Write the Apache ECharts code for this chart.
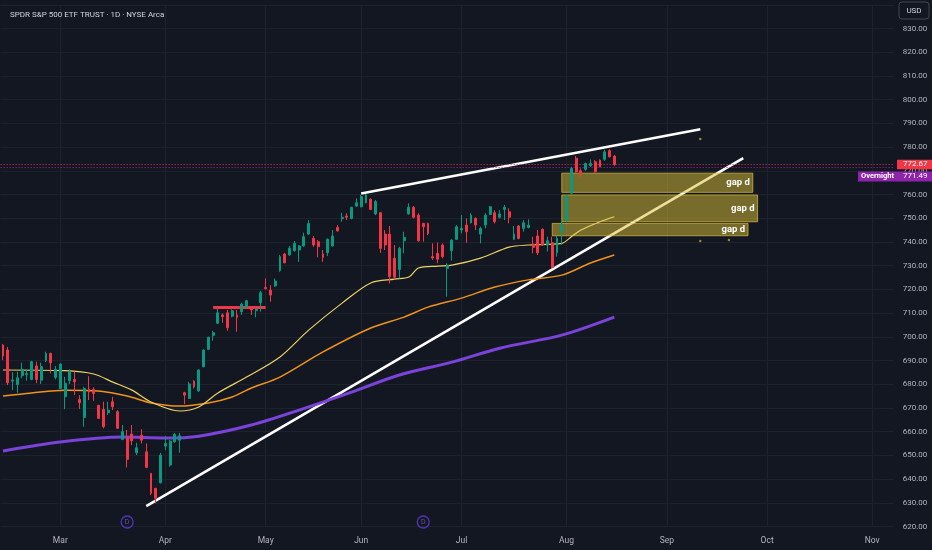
<!DOCTYPE html>
<html><head><meta charset="utf-8">
<script src="https://cdn.jsdelivr.net/npm/echarts@6/dist/echarts.min.js"></script>
<style>html,body{margin:0;padding:0;background:#131722}#c{width:932px;height:550px}</style>
</head><body><div id="c"></div>
<script>
const FONT = 'Roboto, "Noto Sans", sans-serif';
const titleText = 'SPDR S&P 500 ETF TRUST · 1D · NYSE Arca';

// time slots (trading days, incl. future area up to early Nov)
const slotCount = 187;
const categories = Array.from({length: slotCount}, (_, i) => 'd' + i);
const monthIdx = [12, 34, 55, 75, 96, 118, 139, 160, 182];
const monthNames = ['Mar', 'Apr', 'May', 'Jun', 'Jul', 'Aug', 'Sep', 'Oct', 'Nov'];

const opens = [696.5,694.4,681.3,679.9,683.6,684.1,682.0,687.7,681.7,689.9,
693.0,682.9,678.2,674.7,681.5,682.0,673.6,666.0,677.8,677.8,
671.1,669.4,668.0,672.6,668.4,656.7,657.3,659.0,651.1,658.5,
651.5,642.4,636.1,638.4,653.9,645.9,655.7,656.4,676.4,674.0,
681.3,677.2,687.4,694.7,700.6,705.7,709.2,710.1,708.7,709.2,
710.6,712.4,712.0,711.0,714.4,720.8,719.7,721.4,727.9,734.9,
734.5,736.3,736.6,738.3,743.3,741.5,740.1,734.9,735.4,738.3,
746.1,749.8,750.9,749.9,755.1,754.8,756.5,758.0,751.8,752.3,
743.3,743.3,733.1,728.4,740.5,751.8,754.6,751.3,747.8,747.8,
733.8,735.2,738.7,728.9,736.3,741.1,745.0,747.1,748.1,749.9,
743.3,747.1,751.6,752.3,750.4,753.7,752.7,741.1,746.7,745.7,
746.1,739.1,742.5,745.3,738.7,739.7,735.4,744.3,748.9,760.5,
775.3,770.0,770.6,772.1,773.8,774.5,774.8,778.5,776.2];
const closes = [691.9,680.6,681.8,682.7,686.3,684.5,689.5,682.0,687.4,693.0,
689.0,686.3,688.5,680.4,685.3,681.0,672.2,678.2,676.7,676.1,
665.6,662.1,669.1,670.5,661.4,660.0,648.3,656.1,653.2,656.4,
644.9,634.0,631.9,650.1,655.0,656.0,658.8,658.3,675.4,680.1,
678.9,686.0,694.4,699.8,701.7,710.1,708.5,703.8,711.0,708.2,
713.8,715.2,711.3,711.7,718.6,720.3,717.6,723.5,733.8,731.2,
737.3,739.4,738.3,742.2,747.8,738.7,738.0,733.5,741.1,742.5,
744.7,750.4,750.4,754.6,756.5,759.1,759.8,753.7,757.0,737.3,
738.7,725.3,725.1,737.3,741.9,754.6,750.4,740.5,746.4,743.6,
733.2,732.7,733.8,730.2,740.8,746.4,745.7,744.3,751.3,747.1,
745.7,751.3,754.8,748.5,751.8,754.6,750.4,743.3,741.5,748.1,
747.1,737.7,735.4,738.7,740.5,729.3,741.5,747.1,759.4,771.0,
769.6,768.6,773.1,773.1,769.6,771.7,778.0,775.9,772.67];
const lows = [690.2,679.6,677.5,676.4,682.5,681.5,681.7,680.4,680.1,689.3,
684.6,682.0,678.1,669.5,680.1,675.4,669.5,662.1,673.3,673.0,
665.3,661.4,667.0,669.1,661.1,656.4,644.9,654.3,650.1,655.0,
644.6,633.2,629.7,638.2,652.2,645.2,655.3,651.1,671.6,673.8,
678.2,676.8,687.1,694.4,698.3,705.4,705.9,702.5,708.2,702.1,
709.2,712.0,709.2,708.2,710.6,720.0,714.8,721.1,727.4,731.0,
734.2,735.9,731.6,738.0,742.9,738.0,733.5,731.6,734.0,738.0,
744.3,748.5,749.2,749.5,754.8,754.6,756.3,753.4,751.3,735.4,
736.6,722.5,724.2,724.6,735.2,751.5,749.9,740.1,740.1,742.9,
732.4,731.0,733.1,716.9,732.1,740.8,743.6,739.7,747.8,745.0,
739.4,745.7,751.3,747.8,749.9,749.2,747.8,740.8,741.1,744.3,
745.7,735.2,734.5,738.3,735.9,729.0,733.8,738.7,748.5,760.2,
769.2,767.2,770.0,771.7,769.2,771.5,774.2,775.7,772.1];
const highs = [696.9,695.7,685.1,685.3,689.1,686.3,689.9,689.5,689.1,693.7,
693.3,687.7,688.8,683.1,686.3,685.3,675.4,678.9,683.4,678.7,
671.3,672.6,672.6,674.7,669.1,662.8,660.7,662.8,655.3,661.0,
655.0,642.6,636.3,651.1,658.1,656.4,659.5,659.5,676.8,681.0,
681.7,686.3,694.7,700.0,702.5,712.0,709.9,711.3,711.6,711.3,
714.4,715.5,712.4,712.0,719.4,724.6,721.8,724.6,734.5,735.4,
738.3,740.4,738.7,743.9,749.2,742.5,740.8,736.6,741.5,745.0,
747.1,752.3,752.1,754.8,758.4,759.8,760.2,758.4,757.7,752.7,
745.0,746.7,738.7,738.0,744.3,756.3,755.1,752.1,748.1,748.1,
739.4,739.7,739.4,731.0,741.1,747.1,751.3,749.9,752.1,750.4,
746.4,752.1,755.1,753.4,753.4,755.6,754.2,746.7,747.1,749.2,
749.5,742.2,745.0,745.7,742.2,742.2,742.5,749.2,759.8,771.7,
776.2,771.0,773.4,774.8,774.5,774.8,778.8,779.1,776.6];

// moving averages (slot index, price)
const yellowIdx = [0,13,19,23,27,31,37,41,45,51,58,64,71,77,82,85,87,91,94,100,106,110,117,119,121,125,128];
const yellowVal = [686.0,685.7,684.3,680.9,677.5,672.5,668.7,670.4,676.3,683.0,691.5,702.8,714.2,722.7,724.3,725.2,729.0,729.8,730.2,733.2,737.8,738.7,739.4,742.2,745.0,748.5,750.6];
const orangeIdx = [0,6,13,20,26,31,37,43,48,52,58,67,77,84,89,96,103,110,117,123,128];
const orangeVal = [675.0,676.3,677.5,677.1,675.0,672.1,670.8,672.1,674.6,678.4,683.0,693.6,703.7,708.3,712.5,716.3,721.0,724.0,726.0,731.1,734.5];
const purpleIdx = [0,12,25,34,41,52,62,73,83,94,104,117,128];
const purpleVal = [651.8,655.6,657.7,657.3,658.1,662.8,669.1,676.7,683.9,689.3,695.2,700.7,708.3];

// drawings
const upperIdx = [75, 146], upperVal = [760.4, 787.5];
const lowerIdx = [30, 155], lowerVal = [628.6, 775.3];
const levelIdx = [44, 55], levelVal = [712.4, 712.4];
const gapStart = [117, 117, 115], gapEnd = [157, 158, 156];
const gapTop = [769.0, 759.8, 747.8], gapBottom = [760.9, 748.5, 742.6];
const gapLabels = ['gap d', 'gap d', 'gap d'];
const dotIdx = [146, 146, 152], dotVal = [783.4, 740.4, 740.8];
const divIdx = [26, 88], divVal = [621.9, 621.9];
const lastPrice = 772.67, overnightPrice = 771.49;
const yMin = 620, yMax = 840, yStep = 10;

const pairs = (a, b) => a.map((x, i) => [x, b[i]]);
const candles = opens.map((o, i) => [o, closes[i], lows[i], highs[i]]);

const chart = echarts.init(document.getElementById('c'), null, {renderer: 'canvas'});
const lineS = (data, color, width, z, smooth) => ({
  type: 'line', data, symbol: 'none', smooth: smooth || false, z, silent: true,
  lineStyle: {color, width}, animation: false
});

chart.setOption({
  backgroundColor: '#131722',
  animation: false,
  title: {text: titleText, left: 5, top: 6,
    textStyle: {color: '#d1d4dc', fontSize: 8, fontWeight: 'normal', fontFamily: FONT}},
  grid: {left: 0.6, right: 38.3, top: 4.79, bottom: 23.5},
  xAxis: {
    type: 'category', data: categories, boundaryGap: true,
    axisLine: {show: false}, axisTick: {show: false},
    axisLabel: {
      interval: (i) => monthIdx.includes(i),
      formatter: (v, i) => { const k = monthIdx.indexOf(i); return k >= 0 ? monthNames[k] : ''; },
      color: '#b2b5be', fontSize: 8.5, margin: 10, fontFamily: FONT
    },
    splitLine: {show: true, alignWithLabel: true, interval: (i) => monthIdx.includes(i),
      lineStyle: {color: '#1e222d', width: 1}}
  },
  yAxis: {
    type: 'value', position: 'right', min: yMin, max: yMax, interval: yStep,
    axisLine: {show: false}, axisTick: {show: false},
    axisLabel: {formatter: (v) => v >= yMax ? '' : v.toFixed(2), color: '#b2b5be', fontSize: 8, margin: 9, fontFamily: FONT},
    splitLine: {lineStyle: {color: '#1e222d', width: 1}}
  },
  series: [
    lineS(pairs(upperIdx, upperVal), '#ffffff', 2.6, 2),
    lineS(pairs(lowerIdx, lowerVal), '#ffffff', 2.6, 2),
    {
      type: 'custom', z: 3, silent: true, clip: false,
      data: gapStart.map((s, i) => [s, gapTop[i], gapEnd[i], gapBottom[i]]),
      encode: {x: [0, 2], y: [1, 3]},
      renderItem: (params, api) => {
        const p1 = api.coord([api.value(0), api.value(1)]);
        const p2 = api.coord([api.value(2), api.value(3)]);
        return {type: 'group', children: [
          {type: 'rect', shape: {x: p1[0], y: p1[1], width: p2[0] - p1[0], height: p2[1] - p1[1]},
            style: {fill: 'rgba(222,193,56,0.5)', stroke: 'rgba(222,193,56,0.7)', lineWidth: 1}},
          {type: 'text', style: {text: gapLabels[params.dataIndex], x: p2[0] - 3, y: (p1[1] + p2[1]) / 2,
            align: 'right', verticalAlign: 'middle', fill: '#ffffff', font: 'bold 9.5px Roboto'}}
        ]};
      }
    },
    lineS(pairs(purpleIdx, purpleVal), '#7b43da', 3, 4, 0.3),
    lineS(pairs(orangeIdx, orangeVal), '#f0921c', 1.5, 4, 0.3),
    lineS(pairs(yellowIdx, yellowVal), '#ecd163', 1.2, 4, 0.3),
    lineS(pairs(levelIdx, levelVal), '#f23645', 3, 4),
    {
      type: 'candlestick', z: 5, silent: true, data: candles, barWidth: 2.4,
      itemStyle: {color: '#089981', color0: '#f23645', borderColor: '#089981', borderColor0: '#f23645', borderWidth: 1},
      markLine: {
        silent: true, symbol: ['none', 'none'], animation: false, label: {show: false},
        lineStyle: {type: [1, 2], width: 1},
        data: [
          {yAxis: lastPrice, lineStyle: {color: '#f23645'}},
          {yAxis: overnightPrice, lineStyle: {color: '#9c27b0'}}
        ]
      }
    },
    {
      type: 'scatter', z: 6, silent: true, data: pairs(divIdx, divVal), symbol: 'circle', symbolSize: 12,
      itemStyle: {color: 'rgba(0,0,0,0)', borderColor: '#5e3fd4', borderWidth: 1.3},
      label: {show: true, position: 'inside', formatter: 'D', color: '#7c5ce6', fontSize: 7, fontFamily: FONT}
    },
    {
      type: 'scatter', z: 6, silent: true, data: pairs(dotIdx, dotVal), symbolSize: 2.5,
      itemStyle: {color: '#b8a040'}
    }
  ]
});

const yLast = chart.convertToPixel({yAxisIndex: 0}, lastPrice);
const yOver = yLast + 12;
chart.setOption({
  graphic: [
    {type: 'rect', z: 100, shape: {x: 899, y: 2, width: 30, height: 17, r: 3},
      style: {fill: '#131722', stroke: '#434651', lineWidth: 1}},
    {type: 'text', z: 101, style: {text: 'USD', x: 914, y: 10.5, align: 'center', verticalAlign: 'middle',
      fill: '#d1d4dc', font: '8px Roboto'}},
    {type: 'rect', z: 100, shape: {x: 897, y: yLast - 4.8, width: 35, height: 9.6},
      style: {fill: '#f23645'}},
    {type: 'text', z: 101, style: {text: lastPrice.toFixed(2), x: 903, y: yLast, align: 'left', verticalAlign: 'middle',
      fill: '#ffffff', font: '8px Roboto'}},
    {type: 'rect', z: 100, shape: {x: 858, y: yOver - 5, width: 39, height: 10},
      style: {fill: '#8e24aa'}},
    {type: 'text', z: 101, style: {text: 'Overnight', x: 877.5, y: yOver, align: 'center', verticalAlign: 'middle',
      fill: '#ffffff', font: 'bold 7.5px Roboto'}},
    {type: 'rect', z: 100, shape: {x: 897, y: yOver - 5, width: 35, height: 10},
      style: {fill: '#8e24aa'}},
    {type: 'text', z: 101, style: {text: overnightPrice.toFixed(2), x: 903, y: yOver, align: 'left', verticalAlign: 'middle',
      fill: '#ffffff', font: '8px Roboto'}}
  ]
});
</script></body></html>
